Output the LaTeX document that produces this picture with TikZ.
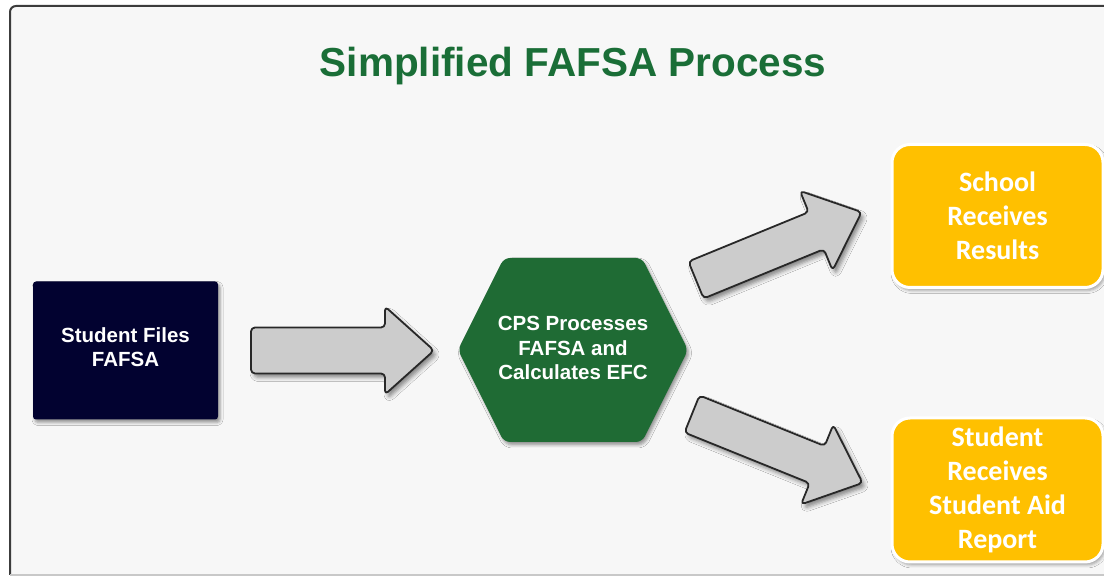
\documentclass[tikz,border=0pt]{standalone}
\usepackage{fontspec}
\setmainfont{Liberation Sans}
\newfontfamily\arialf{Liberation Sans}
\newfontfamily\calib{Carlito}
\usetikzlibrary{shadows.blur}
\definecolor{bgcol}{RGB}{247,247,247}
\definecolor{framecol}{RGB}{60,60,60}
\definecolor{framelight}{RGB}{200,200,200}
\definecolor{titlegreen}{RGB}{26,110,55}
\definecolor{hexgreen}{RGB}{31,107,52}
\definecolor{navy}{RGB}{2,2,48}
\definecolor{gold}{RGB}{255,192,0}
\definecolor{arrowgray}{RGB}{204,204,204}
\definecolor{arrowedge}{RGB}{40,40,40}
\tikzset{
  softshadow/.style={blur shadow={shadow xshift=3pt, shadow yshift=-4pt, shadow blur radius=4pt, shadow opacity=45}},
  blockarrow/.style={fill=arrowgray, draw=arrowedge, line width=1.8pt, rounded corners=4pt, line join=round, softshadow},
  pics/fafarrow/.style args={#1/#2/#3/#4}{code={
    \path[blockarrow] (0,-#2) -- (#1-#4,-#2) -- (#1-#4,-#3) -- (#1,0) -- (#1-#4,#3) -- (#1-#4,#2) -- (0,#2) -- cycle;
  }},
  navybox/.style={fill=navy, rounded corners=3pt, minimum width=185pt, minimum height=138pt, text=white, align=center, text depth=6pt, font=\arialf\bfseries\fontsize{20.5}{24}\selectfont, blur shadow={shadow xshift=2pt, shadow yshift=-3pt, shadow blur radius=3pt, shadow opacity=40}},
  hextext/.style={text=white, align=center, font=\arialf\bfseries\fontsize{20.5}{24.5}\selectfont},
  goldbox/.style={fill=gold, draw=white, line width=3pt, rounded corners=18pt, text=white, align=center, font=\calib\bfseries\fontsize{28}{34}\selectfont, blur shadow={shadow xshift=2pt, shadow yshift=-3pt, shadow blur radius=3pt, shadow opacity=35}},
}
\begin{document}
\begin{tikzpicture}[x=1pt,y=1pt]
\useasboundingbox (0,0) rectangle (1104,577);
% frame
\fill[bgcol] (10,2) rectangle (1112,571);
\draw[framecol, line width=2pt, rounded corners=6pt] (1112,571) -- (10,571) -- (10,2);
\draw[framelight, line width=1.5pt] (10,2) -- (1112,2);
% title
\node[text=titlegreen, font=\arialf\bfseries\fontsize{40.5}{48}\selectfont] (title) at (573,511) {Simplified FAFSA Process};
% student box
\node[navybox] (student) at (125.5,226.5) {Student Files\\FAFSA};
% hexagon
\path[fill=hexgreen, rounded corners=6pt, blur shadow={shadow xshift=2pt, shadow yshift=-3pt, shadow blur radius=3pt, shadow opacity=40}]
  (458,227) -- (504,319) -- (642,319) -- (688,227) -- (642,135) -- (504,135) -- cycle;
\node[hextext] (cps) at (573,229) {CPS Processes\\FAFSA and\\Calculates EFC};
% gold boxes
\node[goldbox, minimum width=211pt, minimum height=143pt] (school) at (997.5,361) {School\\Receives\\Results};
\node[goldbox, minimum width=211pt, minimum height=144pt] (sar) at (997.5,87) {Student\\Receives\\Student Aid\\Report};
% arrows
\pic[shift={(251,226.5)}] {fafarrow={183/23/44/49}};
\pic[shift={(696,297)}, rotate=22.3] {fafarrow={179/20/43/49}};
\pic[shift={(692,163)}, rotate=-22] {fafarrow={184/20/43/49}};
\end{tikzpicture}
\end{document}
